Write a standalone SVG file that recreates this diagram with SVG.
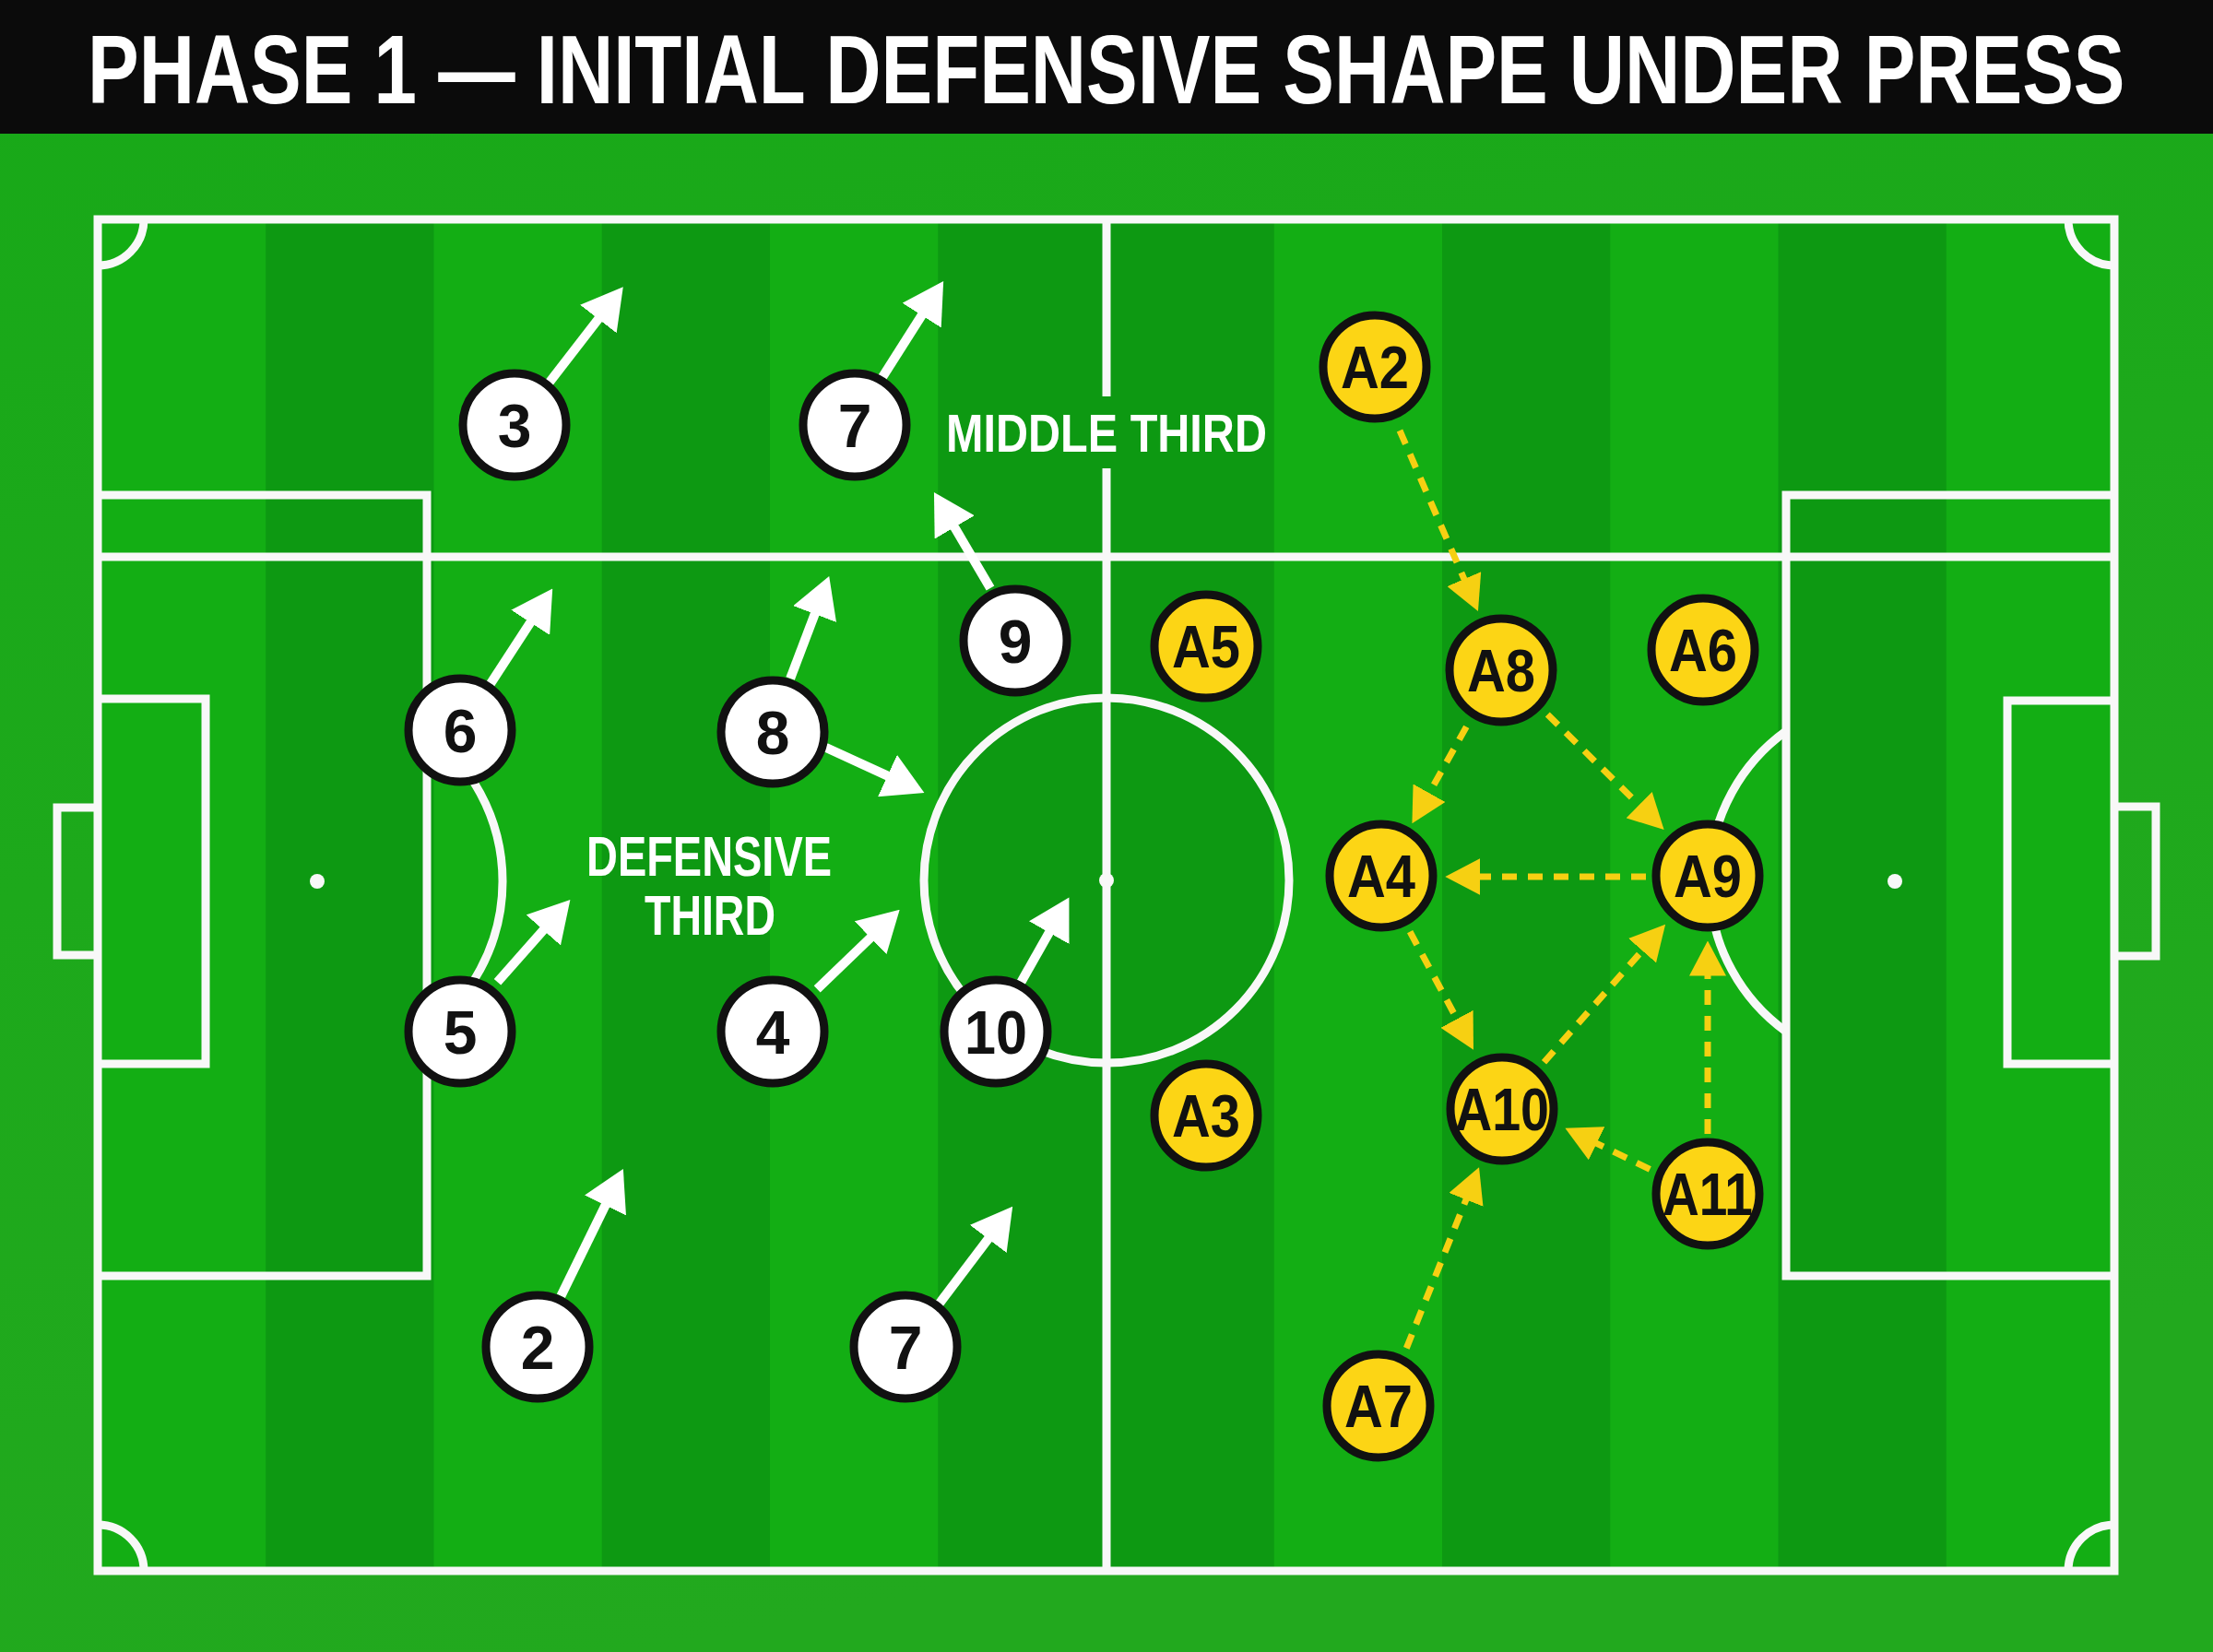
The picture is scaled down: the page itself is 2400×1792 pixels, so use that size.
<svg xmlns="http://www.w3.org/2000/svg" width="2400" height="1792" viewBox="0 0 2400 1792">
<defs>
<linearGradient id="bg" x1="0" y1="0" x2="0.3" y2="1">
<stop offset="0" stop-color="#18a918"/>
<stop offset="1" stop-color="#22a91e"/>
</linearGradient>
<marker id="hw" markerUnits="userSpaceOnUse" viewBox="0 0 44 50" markerWidth="44" markerHeight="50" refX="20" refY="25" orient="auto"><path d="M0,0 L44,25 L0,50 z" fill="#ffffff"/></marker>
<marker id="hy" markerUnits="userSpaceOnUse" viewBox="0 0 38 40" markerWidth="38" markerHeight="40" refX="18" refY="20" orient="auto"><path d="M0,0 L38,20 L0,40 z" fill="#f6d012"/></marker>
</defs>
<style>
.ln{fill:none;stroke:#f8f8f8;stroke-width:9}
.lt{fill:#13ae14}
.dk{fill:#0d9912}
.wa{fill:none;stroke:#ffffff;stroke-width:10;marker-end:url(#hw)}
.ya{fill:none;stroke:#f6d012;stroke-width:7;stroke-dasharray:16 12;marker-end:url(#hy)}
.wp circle{fill:#ffffff;stroke:#111111;stroke-width:9}
.yp circle{fill:#fcd515;stroke:#111111;stroke-width:9}
.num{font-family:"Liberation Sans",Arial,sans-serif;font-weight:bold;font-size:66px;fill:#111111;text-anchor:middle}
.anum{font-family:"Liberation Sans",Arial,sans-serif;font-weight:bold;font-size:64px;fill:#111111;text-anchor:middle}
.lbl{font-family:"Liberation Sans",Arial,sans-serif;font-weight:bold;fill:#ffffff}
</style>
<rect x="0" y="0" width="2400" height="1792" fill="url(#bg)"/>
<g id="title">
<rect x="0" y="0" width="2400" height="145" fill="#0b0b0b"/>
<text class="lbl" font-size="106" transform="translate(95,112) scale(0.787,1)">PHASE 1 — INITIAL DEFENSIVE SHAPE UNDER PRESS</text>
</g>
<g id="pitch">
<rect class="lt" x="106" y="238" width="2187" height="1466"/>
<rect class="dk" x="288.25" y="238" width="182.25" height="1466"/>
<rect class="dk" x="652.75" y="238" width="182.25" height="1466"/>
<rect class="dk" x="1017.25" y="238" width="364.5" height="1466"/>
<rect class="dk" x="1564" y="238" width="182.25" height="1466"/>
<rect class="dk" x="1928.5" y="238" width="182.25" height="1466"/>
<rect class="ln" x="106" y="238" width="2187" height="1466"/>
<line class="ln" x1="106" y1="604" x2="2293" y2="604"/>
<line class="ln" x1="1200" y1="238" x2="1200" y2="430"/>
<line class="ln" x1="1200" y1="508" x2="1200" y2="1704"/>
<circle class="ln" cx="1200" cy="955" r="198"/>
<circle cx="1200" cy="955" r="8" fill="#f8f8f8"/>
<polyline class="ln" points="106,537 463,537 463,1384 106,1384"/>
<polyline class="ln" points="106,758 223,758 223,1154 106,1154"/>
<polyline class="ln" points="106,876 62,876 62,1036 106,1036"/>
<circle cx="344" cy="956" r="8" fill="#f8f8f8"/>
<path class="ln" d="M463,794 A201,201 0 0 1 463,1118"/>
<polyline class="ln" points="2293,537 1937,537 1937,1384 2293,1384"/>
<polyline class="ln" points="2293,760 2177,760 2177,1154 2293,1154"/>
<polyline class="ln" points="2293,875 2338,875 2338,1037 2293,1037"/>
<circle cx="2055" cy="956" r="8" fill="#f8f8f8"/>
<path class="ln" d="M1937,793 A201,201 0 0 0 1937,1119"/>
<path class="ln" d="M156,238 A50,50 0 0 1 106,288"/>
<path class="ln" d="M2243,238 A50,50 0 0 0 2293,288"/>
<path class="ln" d="M106,1654 A50,50 0 0 1 156,1704"/>
<path class="ln" d="M2293,1654 A50,50 0 0 0 2243,1704"/>
</g>
<g id="labels">
<text class="lbl" x="1026" y="490" font-size="58" textLength="348" lengthAdjust="spacingAndGlyphs">MIDDLE THIRD</text>
<text class="lbl" x="769" y="950" font-size="61" text-anchor="middle" textLength="266" lengthAdjust="spacingAndGlyphs">DEFENSIVE</text>
<text class="lbl" x="770" y="1014" font-size="61" text-anchor="middle" textLength="142" lengthAdjust="spacingAndGlyphs">THIRD</text>
</g>
<g id="connectors">
<line class="wa" x1="595.4" y1="415.2" x2="661.1" y2="330.2"/>
<line class="wa" x1="956.6" y1="409.8" x2="1010.3" y2="325.2"/>
<line class="wa" x1="1074" y1="638" x2="1025.1" y2="554.7"/>
<line class="wa" x1="531.9" y1="741.8" x2="586.1" y2="658.5"/>
<line class="wa" x1="857.1" y1="736.1" x2="890.7" y2="647.4"/>
<line class="wa" x1="895.4" y1="810.7" x2="980.6" y2="849.9"/>
<line class="wa" x1="539.5" y1="1065.2" x2="602.5" y2="994"/>
<line class="wa" x1="886.2" y1="1072.9" x2="958.4" y2="1003.4"/>
<line class="wa" x1="1107.4" y1="1065.2" x2="1147.6" y2="994.3"/>
<line class="wa" x1="608.4" y1="1405.7" x2="665.3" y2="1289.5"/>
<line class="wa" x1="1017.8" y1="1415.2" x2="1083.7" y2="1327.9"/>
<line class="ya" x1="1518" y1="467" x2="1595" y2="644.6"/>
<line class="ya" x1="1590.3" y1="788.4" x2="1541.2" y2="875.9"/>
<line class="ya" x1="1678.3" y1="775" x2="1790.4" y2="885.9"/>
<line class="ya" x1="1785" y1="951" x2="1587.3" y2="951"/>
<line class="ya" x1="1529.1" y1="1010.7" x2="1588.5" y2="1121.2"/>
<line class="ya" x1="1674.5" y1="1152.2" x2="1792.9" y2="1017.7"/>
<line class="ya" x1="1852" y1="1230" x2="1852" y2="1040.5"/>
<line class="ya" x1="1789.3" y1="1268.3" x2="1715.4" y2="1232.4"/>
<line class="ya" x1="1525.3" y1="1462.4" x2="1596.6" y2="1284.7"/>
</g>
<g id="p3" class="wp"><circle cx="558" cy="461" r="56"/><text class="num" x="558" y="485">3</text></g>
<g id="p7a" class="wp"><circle cx="927" cy="461" r="56"/><text class="num" x="927" y="485">7</text></g>
<g id="p9" class="wp"><circle cx="1101" cy="695" r="56"/><text class="num" x="1101" y="719">9</text></g>
<g id="p6" class="wp"><circle cx="499" cy="792" r="56"/><text class="num" x="499" y="816">6</text></g>
<g id="p8" class="wp"><circle cx="838" cy="794" r="56"/><text class="num" x="838" y="818">8</text></g>
<g id="p5" class="wp"><circle cx="499" cy="1119" r="56"/><text class="num" x="499" y="1143">5</text></g>
<g id="p4" class="wp"><circle cx="838" cy="1119" r="56"/><text class="num" x="838" y="1143">4</text></g>
<g id="p10" class="wp"><circle cx="1080" cy="1119" r="56"/><text class="num" x="1080" y="1143" textLength="68" lengthAdjust="spacingAndGlyphs">10</text></g>
<g id="p2" class="wp"><circle cx="583" cy="1461" r="56"/><text class="num" x="583" y="1485">2</text></g>
<g id="p7b" class="wp"><circle cx="982" cy="1461" r="56"/><text class="num" x="982" y="1485">7</text></g>
<g id="A2" class="yp"><circle cx="1491" cy="398" r="56"/><text class="anum" x="1491" y="421" textLength="74" lengthAdjust="spacingAndGlyphs">A2</text></g>
<g id="A5" class="yp"><circle cx="1308" cy="701" r="56"/><text class="anum" x="1308" y="724" textLength="74" lengthAdjust="spacingAndGlyphs">A5</text></g>
<g id="A8" class="yp"><circle cx="1628" cy="727" r="56"/><text class="anum" x="1628" y="750" textLength="74" lengthAdjust="spacingAndGlyphs">A8</text></g>
<g id="A6" class="yp"><circle cx="1847" cy="705" r="56"/><text class="anum" x="1847" y="728" textLength="74" lengthAdjust="spacingAndGlyphs">A6</text></g>
<g id="A4" class="yp"><circle cx="1498" cy="950" r="56"/><text class="anum" x="1498" y="973" textLength="74" lengthAdjust="spacingAndGlyphs">A4</text></g>
<g id="A9" class="yp"><circle cx="1852" cy="950" r="56"/><text class="anum" x="1852" y="973" textLength="74" lengthAdjust="spacingAndGlyphs">A9</text></g>
<g id="A3" class="yp"><circle cx="1308" cy="1210" r="56"/><text class="anum" x="1308" y="1233" textLength="74" lengthAdjust="spacingAndGlyphs">A3</text></g>
<g id="A10" class="yp"><circle cx="1629" cy="1203" r="56"/><text class="anum" x="1629" y="1226" textLength="102" lengthAdjust="spacingAndGlyphs">A10</text></g>
<g id="A11" class="yp"><circle cx="1852" cy="1295" r="56"/><text class="anum" x="1852" y="1318" textLength="98" lengthAdjust="spacingAndGlyphs">A11</text></g>
<g id="A7" class="yp"><circle cx="1495" cy="1525" r="56"/><text class="anum" x="1495" y="1548" textLength="74" lengthAdjust="spacingAndGlyphs">A7</text></g>
</svg>
